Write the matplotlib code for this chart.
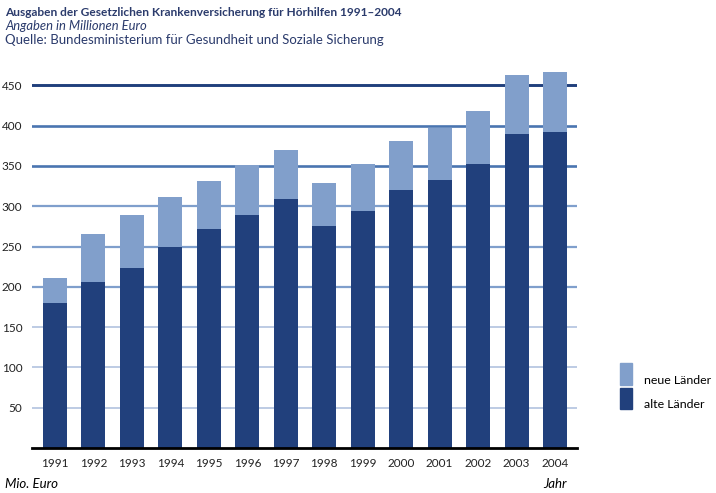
import numpy as np
import matplotlib
matplotlib.use("Agg")
import matplotlib.pyplot as plt
from matplotlib.patches import Rectangle

# data (Mio. Euro)
years = ["1991", "1992", "1993", "1994", "1995", "1996", "1997",
         "1998", "1999", "2000", "2001", "2002", "2003", "2004"]
alte = [180, 206, 223, 249, 272, 289, 309, 275, 294, 320, 332, 352, 390, 392]
total = [211, 265, 289, 312, 331, 351, 370, 329, 352, 381, 397, 418, 463, 466]
neue = [t - a for t, a in zip(total, alte)]
yticks = [50, 100, 150, 200, 250, 300, 350, 400, 450]

c_dark = "#21407c"
c_light = "#819fcb"
c_text = "#2b3b6c"
# grid colour gets darker towards the top
grid_col = {50: "#b7c7e2", 100: "#b7c7e2", 150: "#b7c7e2",
            200: "#7f9fcc", 250: "#7f9fcc", 300: "#7f9fcc",
            350: "#4a75b0", 400: "#4a75b0", 450: "#203f7c"}
grid_lw = {50: 1.3, 100: 1.3, 150: 1.3, 200: 1.6, 250: 1.6, 300: 1.6,
           350: 1.9, 400: 1.9, 450: 2.1}

W, H = 716, 493
plt.rcParams['font.family'] = ['Lato', 'DejaVu Sans']
fig = plt.figure(figsize=(W / 100, H / 100), dpi=100)

px_per_unit = 0.806
ylim_top = 480
ax_left, ax_right, ax_bottom = 32, 577, 448
ax_h = ylim_top * px_per_unit
ax = fig.add_axes([ax_left / W, 1 - ax_bottom / H, (ax_right - ax_left) / W, ax_h / H])

x = np.arange(len(years))
for v in yticks:
    ax.axhline(v, color=grid_col[v], lw=grid_lw[v], zorder=0)
ax.bar(x, alte, width=0.625, color=c_dark, zorder=2)
ax.bar(x, neue, bottom=alte, width=0.625, color=c_light, zorder=2)

ax.set_xlim(-0.598, 13.57)
ax.set_ylim(0, ylim_top)
for s in ["top", "right", "left"]:
    ax.spines[s].set_visible(False)
ax.spines["bottom"].set_linewidth(2)
ax.spines["bottom"].set_color("black")
ax.set_xticks(x)
ax.set_xticklabels(years, fontsize=8.5, color="#222222")
ax.set_yticks(yticks)
ax.set_yticklabels([str(v) for v in yticks], fontsize=8.5, color="#222222")
ax.tick_params(axis="both", length=0)
ax.tick_params(axis="x", pad=7)
ax.tick_params(axis="y", pad=7)

# titles
fig.text(5 / W, 1 - 12 / H, "Ausgaben der Gesetzlichen Krankenversicherung für Hörhilfen 1991–2004",
         fontsize=8.55, fontweight="bold", color=c_text, va="center", ha="left")
fig.text(5 / W, 1 - 26 / H, "Angaben in Millionen Euro", fontsize=9.4, style="italic",
         color=c_text, va="center", ha="left")
fig.text(5 / W, 1 - 40 / H, "Quelle: Bundesministerium für Gesundheit und Soziale Sicherung",
         fontsize=9.5, color=c_text, va="center", ha="left")

fig.text(5 / W, 1 - 484 / H, "Mio. Euro", fontsize=9.5, style="italic", va="center", ha="left")
fig.text(567 / W, 1 - 484 / H, "Jahr", fontsize=9.5, style="italic", va="center", ha="right")

# legend
fig.patches.append(Rectangle((620 / W, 1 - 385 / H), 12 / W, 22 / H,
                             transform=fig.transFigure, color=c_light))
fig.patches.append(Rectangle((620 / W, 1 - 409 / H), 12 / W, 21 / H,
                             transform=fig.transFigure, color=c_dark))
fig.text(644 / W, 1 - 380 / H, "neue Länder", fontsize=8.9, va="center", ha="left")
fig.text(644 / W, 1 - 404 / H, "alte Länder", fontsize=8.9, va="center", ha="left")

fig.savefig("out.png", dpi=100)
